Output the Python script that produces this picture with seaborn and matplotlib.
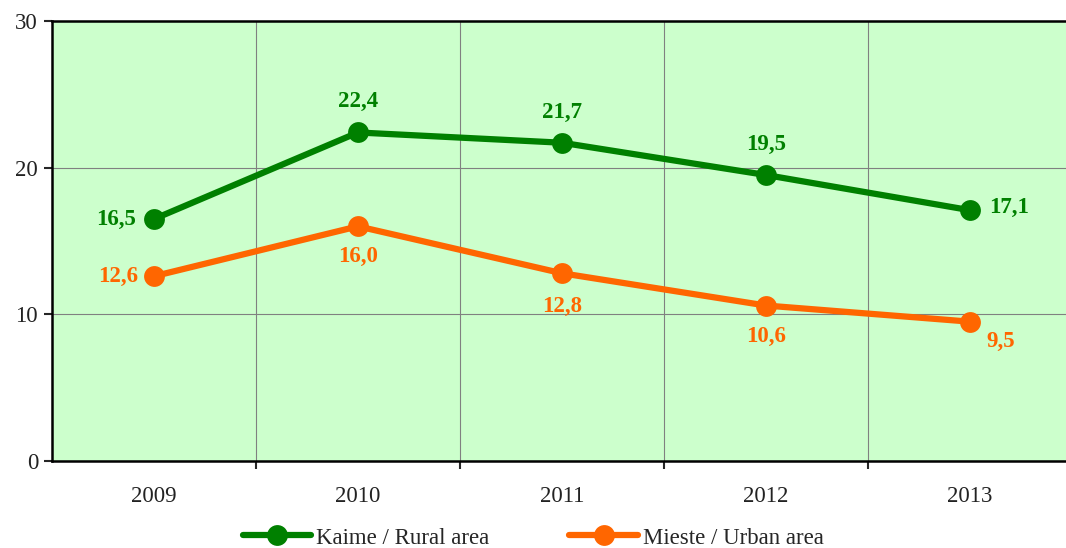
import matplotlib.pyplot as plt
import pandas as pd
import seaborn as sns

years = ["2009", "2010", "2011", "2012", "2013"]
rural = [16.5, 22.4, 21.7, 19.5, 17.1]
urban = [12.6, 16.0, 12.8, 10.6, 9.5]
series_names = ["Kaime / Rural area", "Mieste / Urban area"]
colors = ["#008000", "#FF6600"]

df = pd.DataFrame({
    "year": years * 2,
    "value": rural + urban,
    "series": [series_names[0]] * 5 + [series_names[1]] * 5,
})

sns.set_style("white")
plt.rcParams["font.family"] = ["Liberation Serif", "DejaVu Serif"]

fig = plt.figure(figsize=(10.66, 5.48), dpi=100)
ax = fig.add_axes([52 / 1066, 1 - 461 / 548, 1020 / 1066, 440 / 548])
ax.set_facecolor("#CCFFCC")

sns.lineplot(data=df, x="year", y="value", hue="series", palette=colors,
             marker="o", markersize=15, markeredgewidth=0, linewidth=4.5,
             sort=False, ax=ax, legend=True)

ax.set_xlim(-0.5, 4.5)
ax.set_ylim(0, 30)
ax.set_yticks([0, 10, 20, 30])
ax.set_xticks(range(5))
ax.set_xticklabels(years)
ax.set_xticks([0.5, 1.5, 2.5, 3.5], minor=True)
ax.grid(True, which="minor", axis="x", color="#808080", linewidth=0.8)
ax.grid(True, which="major", axis="y", color="#808080", linewidth=0.8)
ax.tick_params(axis="x", which="major", length=0, pad=18, labelsize=16.5)
ax.tick_params(axis="x", which="minor", length=6, width=1.5, direction="out", bottom=True)
ax.tick_params(axis="y", length=6, width=1.5, direction="out", left=True, labelsize=16.5, pad=4)
ax.set_xlabel("")
ax.set_ylabel("")
for s in ["left", "bottom", "top"]:
    ax.spines[s].set_color("black")
    ax.spines[s].set_linewidth(1.8)
ax.spines["right"].set_visible(False)
for lbl in ax.get_xticklabels() + ax.get_yticklabels():
    lbl.set_color("#222222")

# value labels: (dx, dy) offsets in points
rural_off = [(-27, 0), (0, 22), (0, 22), (0, 22), (28, 2)]
urban_off = [(-26, 0), (0, -22), (0, -24), (0, -22), (22, -14)]
for vals, offs, c in [(rural, rural_off, colors[0]), (urban, urban_off, colors[1])]:
    for i, (v, (dx, dy)) in enumerate(zip(vals, offs)):
        ax.annotate(f"{v:.1f}".replace(".", ","), (i, v), xytext=(dx, dy),
                    textcoords="offset points", ha="center", va="center",
                    color=c, fontsize=16.5, fontweight="bold")

handles, labels = ax.get_legend_handles_labels()
ax.legend(handles, labels, loc="center", bbox_to_anchor=(0.5, 1 - 538 / 548),
          bbox_transform=fig.transFigure, ncol=2, frameon=False, fontsize=16.5,
          handlelength=3.0, columnspacing=3.5, handletextpad=0.2)

fig.savefig("out.png", dpi=100)
